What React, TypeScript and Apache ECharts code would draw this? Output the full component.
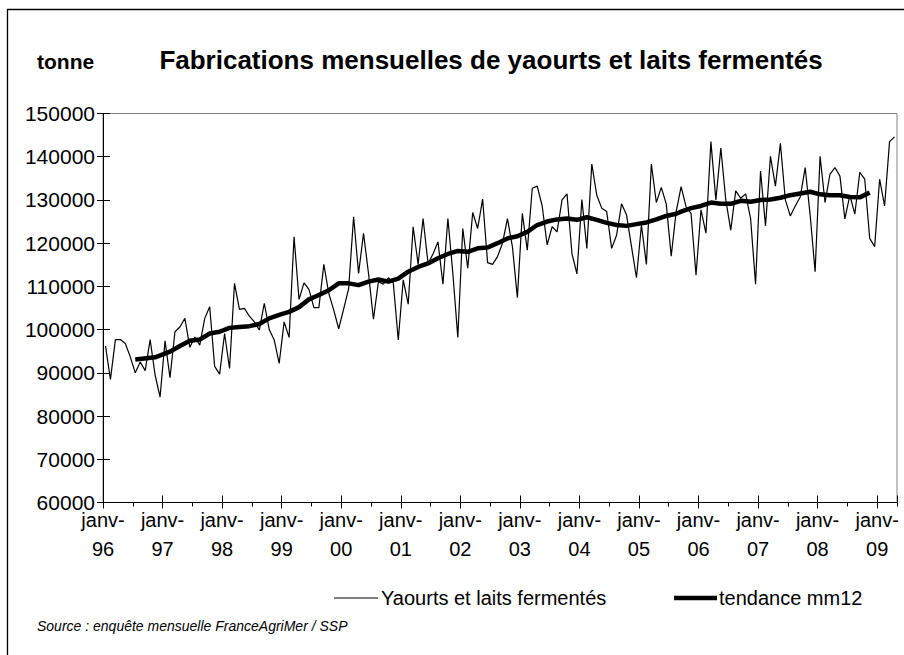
import React, { useEffect, useRef } from 'react';
import * as echarts from 'echarts';

// Tick labels (years) for the x axis, one per January
const yearLabels = ['96', '97', '98', '99', '00', '01', '02', '03', '04', '05', '06', '07', '08', '09'];

// Monthly production (tonnes), janv-96 .. avr-09
const production = [
  96200, 88500, 97700, 97700, 96800, 93700, 90000, 92500, 90500, 97700, 89500, 84400,
  97400, 88900, 99500, 100600, 102600, 95900, 98300, 96400, 102600, 105300, 91500, 89700,
  99100, 91000, 110700, 104700, 104900, 103100, 101800, 99900, 106100, 100000, 97600, 92200,
  101800, 98200, 121500, 107000, 110800, 109300, 105100, 105100, 115100, 108400, 104500, 100200,
  104800, 109500, 126100, 113000, 122300, 113000, 102400, 111100, 110500, 112000, 110800, 97600,
  111500, 105900, 123800, 115100, 125700, 115300, 117500, 120300, 110500, 125700, 113000, 98200,
  123400, 114200, 127100, 123400, 130200, 115500, 115100, 116900, 120000, 125700, 119200, 107400,
  126900, 118400, 132700, 133200, 128600, 119600, 123800, 122600, 130000, 131400, 117600, 112900,
  130100, 118800, 138300, 131100, 128100, 127300, 118800, 121900, 129100, 126500, 119200, 112000,
  124200, 115100, 138300, 129400, 132900, 129100, 117000, 127300, 133100, 128400, 126900, 112600,
  127700, 122300, 143500, 130000, 142000, 130000, 123000, 132100, 130400, 131400, 125700, 110500,
  136700, 124000, 140100, 133200, 143100, 130000, 126300, 128600, 130700, 137500, 126500, 113400,
  140100, 129400, 136000, 137500, 135500, 125600, 131100, 126700, 136400, 134800, 121100, 119200,
  134800, 128600, 143500, 144600,
];

// 12-month moving-average trend, read at these month indices (0 = janv-96)
const trendMonths = [
  6, 10, 13, 15, 17, 19, 21, 23, 25, 27, 29, 31, 33, 35, 37, 39, 41, 43, 45, 47, 49, 51, 53, 55, 57, 59,
  61, 63, 65, 67, 69, 71, 73, 75, 77, 79, 81, 83, 85, 87, 89, 91, 93, 95, 97, 99, 101, 103, 105, 107,
  109, 111, 113, 115, 116, 118, 120, 122, 124, 126, 128, 130, 132, 134, 136, 138, 140, 142, 144, 146,
  148, 150, 152, 154,
];
const trendValues = [
  93100, 93600, 94900, 96200, 97400, 97700, 99100, 99500, 100400, 100600, 100800, 101300, 102600, 103400,
  104100, 105200, 107000, 108000, 109100, 110700, 110700, 110300, 111100, 111600, 111100, 111800,
  113400, 114500, 115300, 116500, 117500, 118200, 118000, 118800, 119000, 120000, 121100, 121600,
  122600, 124200, 125000, 125500, 125700, 125400, 126000, 125400, 124700, 124200, 124000, 124400,
  124800, 125500, 126300, 126800, 127300, 128100, 128600, 129400, 129100, 129100, 129800, 129600,
  130000, 130100, 130500, 131100, 131500, 131900, 131300, 131100, 131100, 130700, 130600, 131700,
];

const seriesNames = ['Yaourts et laits fermentés', 'tendance mm12'];
const titleText = 'Fabrications mensuelles de yaourts et laits fermentés';
const unitText = 'tonne';
const sourceText = 'Source : enquête mensuelle FranceAgriMer / SSP';
const yMin = 60000;
const yMax = 150000;
const yStep = 10000;

export default function App() {
  const ref = useRef<HTMLDivElement>(null);

  useEffect(() => {
    if (!ref.current) return;
    const chart = echarts.init(ref.current, null, { renderer: 'svg' });
    const font = '"Liberation Sans", Arial, Helvetica, sans-serif';
    const nMonths = production.length;
    const prodData = production.map((v, i) => [i + 0.5, v]);
    const trendData = trendMonths.map((m, i) => [m + 0.5, trendValues[i]]);
    const black = '#000000';

    const xCommon = {
      type: 'value',
      min: 0,
      max: nMonths,
      position: 'bottom',
      splitLine: { show: false },
      axisLine: { onZero: false },
    };
    const yCommon = {
      type: 'value',
      min: yMin,
      max: yMax,
      interval: yStep,
      position: 'left',
      splitLine: { show: false },
    };

    const legendY = 598;
    const legendItems = [
      { x0: 334, x1: 378, width: 1.2, textX: 381, name: seriesNames[0] },
      { x0: 674, x1: 717, width: 4.5, textX: 719, name: seriesNames[1] },
    ];
    const legendGraphics: any[] = [];
    legendItems.forEach((it) => {
      legendGraphics.push({
        type: 'line',
        shape: { x1: it.x0, y1: legendY, x2: it.x1, y2: legendY },
        style: { stroke: black, lineWidth: it.width },
        silent: true,
      });
      legendGraphics.push({
        type: 'text',
        x: it.textX,
        y: legendY,
        style: {
          text: it.name,
          font: `20px ${font}`,
          fill: black,
          align: 'left',
          verticalAlign: 'middle',
        },
      });
    });

    chart.setOption({
      animation: false,
      backgroundColor: '#ffffff',
      textStyle: { fontFamily: font },
      grid: {
        left: 103,
        top: 113.5,
        width: 794,
        height: 389,
        show: true,
        borderColor: '#808080',
        borderWidth: 1,
        backgroundColor: 'transparent',
      },
      xAxis: [
        {
          ...xCommon,
          interval: 12,
          axisLine: { show: true, onZero: false, lineStyle: { color: black, width: 1 } },
          axisTick: { show: true, length: 6, lineStyle: { color: black, width: 1 } },
          axisLabel: {
            show: true,
            showMaxLabel: false,
            margin: 3,
            fontSize: 20,
            lineHeight: 29,
            color: black,
            fontFamily: font,
            formatter: (v: number) => {
              const idx = v / 12;
              return Number.isInteger(idx) && idx < yearLabels.length ? `janv-\n${yearLabels[idx]}` : '';
            },
          },
        },
        {
          ...xCommon,
          interval: 12,
          axisLine: { show: false, onZero: false },
          axisTick: { show: true, inside: true, length: 7, lineStyle: { color: black, width: 1 } },
          axisLabel: { show: false },
        },
        {
          ...xCommon,
          interval: 6,
          axisLine: { show: false, onZero: false },
          axisTick: { show: true, length: 4, lineStyle: { color: black, width: 1 } },
          axisLabel: { show: false },
        },
      ],
      yAxis: [
        {
          ...yCommon,
          axisLine: { show: true, onZero: false, lineStyle: { color: black, width: 1 } },
          axisTick: { show: true, length: 6, lineStyle: { color: black, width: 1 } },
          axisLabel: {
            margin: 8,
            fontSize: 21,
            color: black,
            fontFamily: font,
            formatter: (v: number) => String(v),
          },
        },
        {
          ...yCommon,
          axisLine: { show: false, onZero: false },
          axisTick: { show: true, inside: true, length: 7, lineStyle: { color: black, width: 1 } },
          axisLabel: { show: false },
        },
      ],
      series: [
        {
          name: seriesNames[0],
          type: 'line',
          data: prodData,
          xAxisIndex: 0,
          yAxisIndex: 0,
          symbol: 'none',
          lineStyle: { color: black, width: 1.2 },
          itemStyle: { color: black },
          z: 2,
        },
        {
          name: seriesNames[1],
          type: 'line',
          data: trendData,
          xAxisIndex: 0,
          yAxisIndex: 0,
          symbol: 'none',
          lineStyle: { color: black, width: 4.5 },
          itemStyle: { color: black },
          z: 3,
        },
      ],
      graphic: [
        {
          type: 'rect',
          shape: { x: 7.5, y: 9.5, width: 1000, height: 1000 },
          style: { fill: 'none', stroke: black, lineWidth: 1.3 },
          silent: true,
        },
        {
          type: 'text',
          x: 491,
          y: 60,
          style: {
            text: titleText,
            font: `bold 26px ${font}`,
            fill: black,
            align: 'center',
            verticalAlign: 'middle',
          },
        },
        {
          type: 'text',
          x: 37,
          y: 61,
          style: {
            text: unitText,
            font: `bold 21px ${font}`,
            fill: black,
            align: 'left',
            verticalAlign: 'middle',
          },
        },
        {
          type: 'text',
          x: 37,
          y: 626,
          style: {
            text: sourceText,
            font: `italic 14px ${font}`,
            fill: black,
            align: 'left',
            verticalAlign: 'middle',
          },
        },
        ...legendGraphics,
      ],
    });

    return () => chart.dispose();
  }, []);

  return (
    <div
      ref={ref}
      style={{ position: 'fixed', left: 0, top: 0, width: 904, height: 655, background: '#fff' }}
    />
  );
}
